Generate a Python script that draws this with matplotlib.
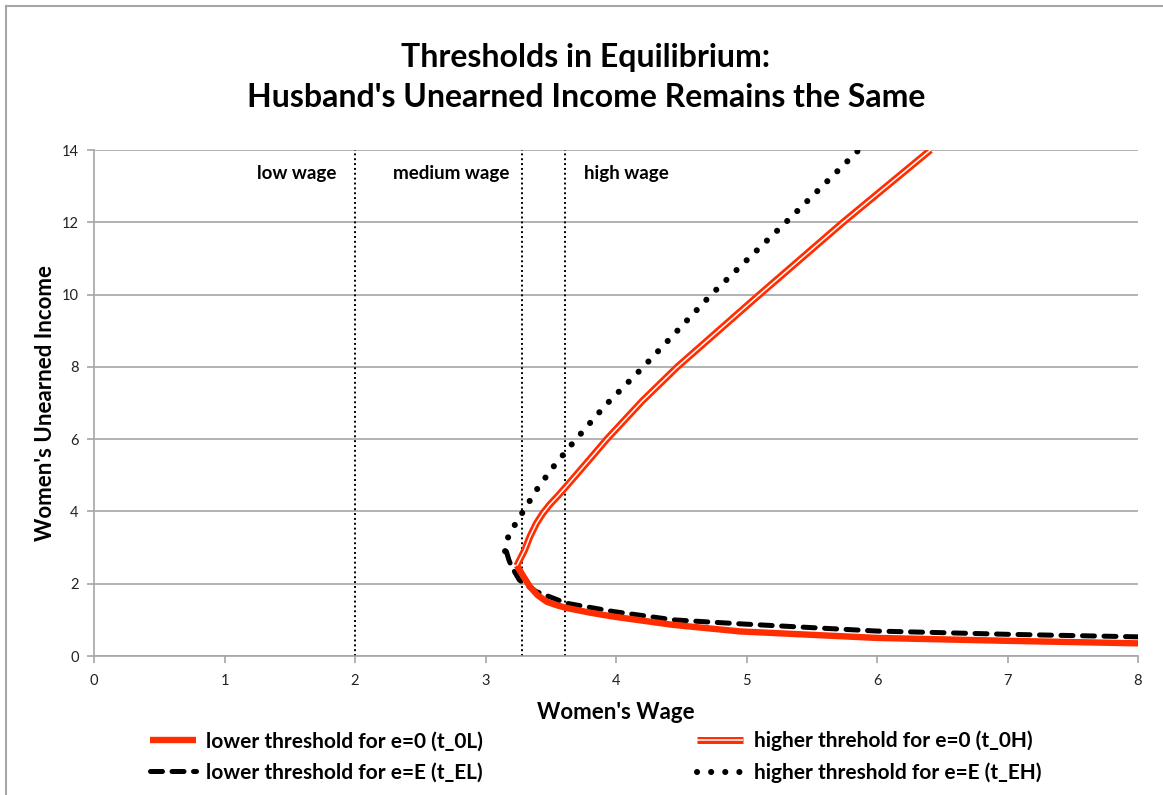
import matplotlib
matplotlib.use("Agg")
import matplotlib.pyplot as plt
from matplotlib.lines import Line2D
from matplotlib.legend_handler import HandlerTuple

# ---- data ----
t0L_wage = [3.24, 3.30, 3.34, 3.40, 3.47, 3.55, 3.62, 3.80, 3.98, 4.44, 4.95, 6.0, 7.0, 8.0]
t0L_inc  = [2.50, 2.15, 1.92, 1.68, 1.50, 1.40, 1.33, 1.20, 1.09, 0.86, 0.68, 0.50, 0.42, 0.35]

t0H_wage = [3.24, 3.30, 3.34, 3.39, 3.44, 3.49, 3.56, 3.64, 3.80, 3.93, 4.20, 4.47, 5.10, 5.74, 6.41]
t0H_inc  = [2.50, 2.93, 3.30, 3.67, 3.95, 4.18, 4.45, 4.78, 5.45, 6.00, 7.05, 8.00, 10.0, 12.0, 14.0]

tEL_wage = [3.16, 3.18, 3.20, 3.26, 3.39, 3.62, 3.98, 4.44, 4.95, 6.0, 7.0, 8.0]
tEL_inc  = [2.89, 2.65, 2.47, 2.10, 1.78, 1.46, 1.23, 1.00, 0.89, 0.69, 0.60, 0.53]

tEH_wage = [3.15, 3.17, 3.22, 3.28, 3.39, 3.51, 3.65, 3.78, 3.92, 4.21, 4.73, 5.33, 5.86]
tEH_inc  = [2.90, 3.26, 3.60, 3.95, 4.59, 5.19, 5.81, 6.36, 6.94, 8.00, 10.0, 12.1, 14.0]

wage_cutoffs = [2.0, 3.28, 3.61]
region_labels = ["low wage", "medium wage", "high wage"]
region_label_x = [1.55, 2.74, 4.08]

x_ticks = list(range(0, 9))
y_ticks = list(range(0, 15, 2))

title = "Thresholds in Equilibrium:\nHusband's Unearned Income Remains the Same"
xlabel = "Women's Wage"
ylabel = "Women's Unearned Income"
legend_labels = ["lower threshold for e=0 (t_0L)", "lower threshold for e=E (t_EL)",
                 "higher threhold for e=0 (t_0H)", "higher threshold for e=E (t_EH)"]

# ---- styling ----
FONT = "Lato"
plt.rcParams["font.family"] = [FONT, "DejaVu Sans"]
RED = "#FF2D00"
GRID = "#A6A6A6"

fig = plt.figure(figsize=(11.63, 7.95), dpi=100)
W, H = 1163, 795
ax = fig.add_axes([94 / W, 1 - 656 / H, (1138 - 94) / W, (656 - 150) / H])

# outer chart frame (left and top edges visible)
fig.add_artist(Line2D([6 / W, 6 / W], [0, 1 - 6 / H], color=GRID, lw=1.5, transform=fig.transFigure))
fig.add_artist(Line2D([6 / W, 1], [1 - 6 / H, 1 - 6 / H], color=GRID, lw=1.5, transform=fig.transFigure))

ax.set_xlim(0, 8)
ax.set_ylim(0, 14)
ax.set_xticks(x_ticks)
ax.set_yticks(y_ticks)
ax.grid(axis="y", color=GRID, lw=1.2)
ax.set_axisbelow(True)
for s in ["top", "right"]:
    ax.spines[s].set_visible(False)
for s in ["left", "bottom"]:
    ax.spines[s].set_color(GRID)
    ax.spines[s].set_linewidth(1.2)
ax.tick_params(axis="both", direction="out", length=5, width=1.2, color=GRID,
               labelsize=10.5, labelcolor="#222222")
ax.tick_params(axis="x", pad=8)
ax.tick_params(axis="y", pad=6)

# vertical wage-region separators
for c in wage_cutoffs:
    ax.axvline(c, color="black", lw=1.4, ls=(0, (1, 1.5)), zorder=2)
for lx, lab in zip(region_label_x, region_labels):
    ax.text(lx, 13.35, lab, ha="center", va="center", fontsize=13.5, fontweight="bold")

# curves
l0L, = ax.plot(t0L_wage, t0L_inc, color=RED, lw=4.6, solid_capstyle="butt",
               solid_joinstyle="round", zorder=4)
l0H_a, = ax.plot(t0H_wage, t0H_inc, color=RED, lw=5.0, solid_capstyle="butt",
                 solid_joinstyle="round", zorder=4)
l0H_b, = ax.plot(t0H_wage, t0H_inc, color="white", lw=1.1, solid_capstyle="butt",
                 solid_joinstyle="round", zorder=5)
lEL, = ax.plot(tEL_wage, tEL_inc, color="black", lw=3.6, ls=(0, (2.4, 1.9)),
               dash_capstyle="round", zorder=3)
lEH, = ax.plot(tEH_wage, tEH_inc, color="black", lw=4.4, ls=(0, (0.01, 2.3)),
               dash_capstyle="round", zorder=3)

fig.suptitle(title, x=586 / W, y=1 - 43 / H, fontsize=23, fontweight="bold", linespacing=1.45)
ax.set_xlabel(xlabel, fontsize=16, fontweight="bold", labelpad=10)
ax.set_ylabel(ylabel, fontsize=16, fontweight="bold", labelpad=4)

handles = [l0L, lEL, (l0H_a, l0H_b), lEH]
fig.legend(handles, legend_labels, ncol=2, loc="center left",
           bbox_to_anchor=(131 / W, 1 - 757 / H), frameon=False,
           prop={"family": FONT, "weight": "bold", "size": 15},
           handlelength=2.2, handletextpad=0.5, columnspacing=10.3, labelspacing=0.55,
           handler_map={tuple: HandlerTuple(ndivide=1)})

fig.savefig("out.png", dpi=100)
